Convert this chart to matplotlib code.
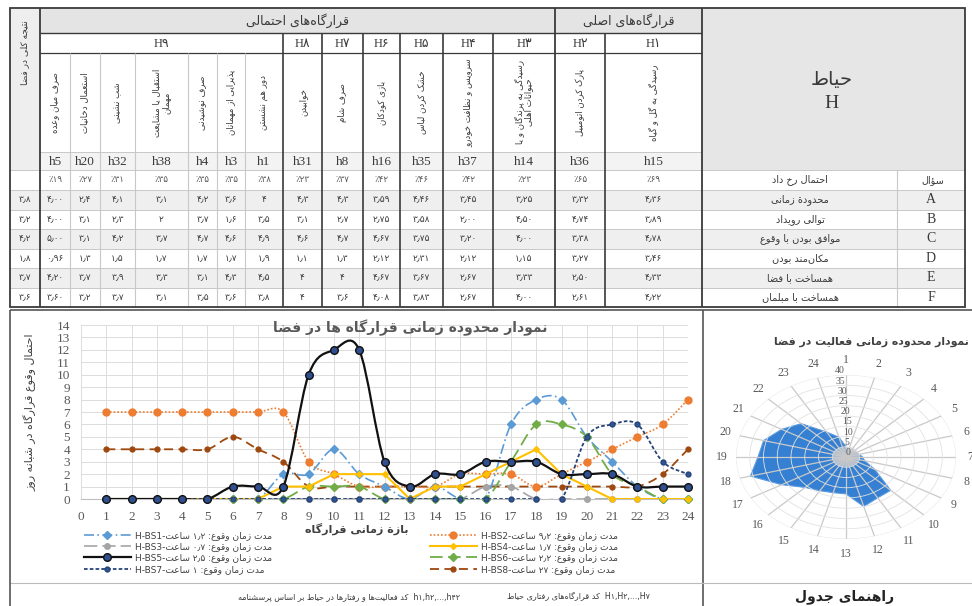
import numpy as np
import matplotlib
matplotlib.use('Agg')
import matplotlib.pyplot as plt
from matplotlib.path import Path
from matplotlib.patches import PathPatch, Rectangle
from matplotlib.lines import Line2D

plt.rcParams['font.family'] = ['DejaVu Sans']
SERIF = ['Liberation Serif', 'DejaVu Sans']

# ------------------------------------------------------------------ data
activity_codes = ['h5', 'h20', 'h32', 'h38', 'h4', 'h3', 'h1', 'h31', 'h8',
                  'h16', 'h35', 'h37', 'h14', 'h36', 'h15']
activity_names = ['صرف میان وعده', 'استعمال دخانیات', 'شب نشینی',
                  'استقبال یا مشایعت\nمهمان', 'صرف نوشیدنی', 'پذیرایی از مهمانان',
                  'دور هم نشستن', 'خوابیدن', 'صرف شام', 'بازی کودکان',
                  'خشک کردن لباس', 'سرویس و نظافت خودرو',
                  'رسیدگی به پرندگان و یا\nحیوانات اهلی', 'پارک کردن اتومبیل',
                  'رسیدگی به گل و گیاه']
occurrence_pct = [19, 27, 31, 35, 35, 35, 38, 23, 37, 42, 46, 42, 23, 65, 69]
setting_groups = ['H۹', 'H۸', 'H۷', 'H۶', 'H۵', 'H۴', 'H۳', 'H۲', 'H۱']
group_sizes = [7, 1, 1, 1, 1, 1, 1, 1, 1]
question_letters = ['A', 'B', 'C', 'D', 'E', 'F']
question_names = ['محدودة زمانی', 'توالی رویداد', 'موافق بودن با وقوع',
                  'مکان\u200cمند بودن', 'همساخت با فضا', 'همساخت با مبلمان']
score_A = ['4.00', '2.4', '4.1', '3.1', '4.2', '3.6', '4', '4.3', '4.3', '3.59', '4.46', '3.45', '3.25', '3.32', '4.36']
score_B = ['4.00', '3.1', '2.3', '2', '3.7', '1.6', '3.5', '3.1', '2.7', '2.75', '3.58', '2.00', '4.50', '4.74', '3.89']
score_C = ['5.00', '3.1', '4.2', '3.7', '4.7', '4.6', '4.9', '4.6', '4.7', '4.67', '3.75', '3.20', '4.00', '3.38', '4.78']
score_D = ['0.96', '1.3', '1.5', '1.7', '1.7', '1.7', '1.9', '1.1', '1.3', '2.12', '2.31', '2.12', '1.15', '3.27', '3.46']
score_E = ['4.20', '3.7', '3.9', '3.3', '3.1', '4.3', '4.5', '4', '4', '4.67', '3.67', '2.67', '3.33', '2.50', '4.33']
score_F = ['3.60', '3.2', '3.7', '3.1', '3.5', '3.6', '3.8', '4', '3.6', '4.08', '3.83', '2.67', '4.00', '2.61', '4.22']
overall_score = ['3.8', '3.2', '4.2', '1.8', '3.7', '3.6']

hours = list(range(1, 25))
series_names = ['H-BS1', 'H-BS2', 'H-BS3', 'H-BS4', 'H-BS5', 'H-BS6', 'H-BS7', 'H-BS8']
series_duration = ['1.2', '9.2', '0.7', '1.7', '2.5', '2.2', '1', '27']
BS1 = [0, 0, 0, 0, 0, 0, 0, 2, 2, 4, 2, 1, 0, 1, 0, 0, 6, 8, 8, 5, 3, 1, 0, 0]
BS2 = [7, 7, 7, 7, 7, 7, 7, 7, 3, 2, 1, 1, 1, 1, 2, 2, 2, 1, 2, 3, 4, 5, 6, 8]
BS3 = [0, 0, 0, 0, 0, 0, 0, 0, 0, 0, 0, 0, 0, 0, 0, 1, 1, 0, 0, 0, 0, 0, 0, 0]
BS4 = [0, 0, 0, 0, 0, 0, 0, 1, 1, 2, 2, 2, 0, 1, 1, 2, 3, 4, 2, 1, 0, 0, 0, 0]
BS5 = [0, 0, 0, 0, 0, 1, 1, 1, 10, 12, 12, 3, 1, 2, 2, 3, 3, 3, 2, 2, 2, 1, 1, 1]
BS6 = [0, 0, 0, 0, 0, 0, 0, 0, 1, 1, 1, 0, 0, 0, 0, 0, 3, 6, 6, 5, 2, 1, 0, 0]
BS7 = [0, 0, 0, 0, 0, 0, 0, 0, 0, 0, 0, 0, 0, 0, 0, 0, 0, 0, 0, 5, 6, 6, 3, 2]
BS8 = [4, 4, 4, 4, 4, 5, 4, 3, 1, 1, 1, 1, 1, 1, 1, 1, 1, 1, 1, 1, 1, 1, 2, 4]

radar_hours = list(range(1, 25))
radar_values = [5, 3, 3, 3, 4, 5, 6, 7, 12, 23, 23, 25, 18, 18, 19, 21, 27, 36, 32, 31, 27, 23, 14, 10]

# ------------------------------------------------------------------ Persian shaping
FORMS = {
    'ا': ('\uFE8D', '\uFE8E', None, None), 'آ': ('\uFE81', '\uFE82', None, None),
    'أ': ('\uFE83', '\uFE84', None, None), 'ؤ': ('\uFE85', '\uFE86', None, None),
    'ئ': ('\uFE89', '\uFE8A', '\uFE8B', '\uFE8C'),
    'ب': ('\uFE8F', '\uFE90', '\uFE91', '\uFE92'), 'پ': ('\uFB56', '\uFB57', '\uFB58', '\uFB59'),
    'ت': ('\uFE95', '\uFE96', '\uFE97', '\uFE98'), 'ث': ('\uFE99', '\uFE9A', '\uFE9B', '\uFE9C'),
    'ج': ('\uFE9D', '\uFE9E', '\uFE9F', '\uFEA0'), 'چ': ('\uFB7A', '\uFB7B', '\uFB7C', '\uFB7D'),
    'ح': ('\uFEA1', '\uFEA2', '\uFEA3', '\uFEA4'), 'خ': ('\uFEA5', '\uFEA6', '\uFEA7', '\uFEA8'),
    'د': ('\uFEA9', '\uFEAA', None, None), 'ذ': ('\uFEAB', '\uFEAC', None, None),
    'ر': ('\uFEAD', '\uFEAE', None, None), 'ز': ('\uFEAF', '\uFEB0', None, None),
    'ژ': ('\uFB8A', '\uFB8B', None, None),
    'س': ('\uFEB1', '\uFEB2', '\uFEB3', '\uFEB4'), 'ش': ('\uFEB5', '\uFEB6', '\uFEB7', '\uFEB8'),
    'ص': ('\uFEB9', '\uFEBA', '\uFEBB', '\uFEBC'), 'ض': ('\uFEBD', '\uFEBE', '\uFEBF', '\uFEC0'),
    'ط': ('\uFEC1', '\uFEC2', '\uFEC3', '\uFEC4'), 'ظ': ('\uFEC5', '\uFEC6', '\uFEC7', '\uFEC8'),
    'ع': ('\uFEC9', '\uFECA', '\uFECB', '\uFECC'), 'غ': ('\uFECD', '\uFECE', '\uFECF', '\uFED0'),
    'ف': ('\uFED1', '\uFED2', '\uFED3', '\uFED4'), 'ق': ('\uFED5', '\uFED6', '\uFED7', '\uFED8'),
    'ک': ('\uFB8E', '\uFB8F', '\uFB90', '\uFB91'), 'گ': ('\uFB92', '\uFB93', '\uFB94', '\uFB95'),
    'ل': ('\uFEDD', '\uFEDE', '\uFEDF', '\uFEE0'), 'م': ('\uFEE1', '\uFEE2', '\uFEE3', '\uFEE4'),
    'ن': ('\uFEE5', '\uFEE6', '\uFEE7', '\uFEE8'), 'ه': ('\uFEE9', '\uFEEA', '\uFEEB', '\uFEEC'),
    'و': ('\uFEED', '\uFEEE', None, None), 'ی': ('\uFBFC', '\uFBFD', '\uFBFE', '\uFBFF'),
    'ة': ('\uFE93', '\uFE94', None, None),
}
LAMALEF = {'ا': ('\uFEFB', '\uFEFC'), 'آ': ('\uFEF5', '\uFEF6'), 'أ': ('\uFEF7', '\uFEF8')}


def _dual(c):
    return c in FORMS and FORMS[c][2] is not None


def _shape(s):
    out = []
    i, n = 0, len(s)
    while i < n:
        ch = s[i]
        prev = s[i - 1] if i > 0 else ''
        nxt = s[i + 1] if i + 1 < n else ''
        if ch == 'ل' and nxt in LAMALEF:
            out.append(LAMALEF[nxt][1] if _dual(prev) else LAMALEF[nxt][0])
            i += 2
            continue
        if ch not in FORMS:
            if ch != '\u200c':
                out.append(ch)
            i += 1
            continue
        iso, fin, ini, med = FORMS[ch]
        jp = _dual(prev)
        jn = ini is not None and nxt in FORMS
        out.append(med if (jp and jn) else fin if jp else ini if jn else iso)
        i += 1
    return ''.join(out)


def fa(s):
    return '\n'.join(_shape(line)[::-1] for line in s.split('\n'))


FA_DIG = str.maketrans('0123456789.', '۰۱۲۳۴۵۶۷۸۹٫')


def pd(s):
    return str(s).translate(FA_DIG)


# ------------------------------------------------------------------ figure
W, H = 972, 606
fig = plt.figure(figsize=(W / 100, H / 100), dpi=100, facecolor='white')
tab = fig.add_axes([0, 0, 1, 1])
tab.set_xlim(0, W)
tab.set_ylim(H, 0)
tab.axis('off')

DARK = '#3a3a3a'
GRID = '#c8c8c8'
x_edges = [40, 70, 100, 135, 188, 217, 245, 283, 322, 363, 400, 443, 493, 555, 605, 702]
XL, XR = 10, 965
Y_TOP, Y_R1, Y_R2, Y_R3, Y_R4, Y_R5 = 8, 33, 53, 152, 170, 190
ROW_H = 19.5
Y_BOT = Y_R5 + ROW_H * 6


def hline(y, x0, x1, c=GRID, lw=0.7):
    tab.plot([x0, x1], [y, y], color=c, lw=lw, solid_capstyle='butt')


def vline(x, y0, y1, c=GRID, lw=0.7):
    tab.plot([x, x], [y0, y1], color=c, lw=lw, solid_capstyle='butt')


# backgrounds
tab.add_patch(Rectangle((x_edges[0], Y_TOP), x_edges[-1] - x_edges[0], Y_R1 - Y_TOP, fc='#e4e4e4', ec='none', zorder=0))
tab.add_patch(Rectangle((x_edges[-1], Y_TOP), XR - x_edges[-1], Y_R4 - Y_TOP, fc='#e6e6e6', ec='none', zorder=0))
tab.add_patch(Rectangle((XL, Y_TOP), x_edges[0] - XL, Y_R4 - Y_TOP, fc='#eeeeee', ec='none', zorder=0))
tab.add_patch(Rectangle((x_edges[0], Y_R3), x_edges[-1] - x_edges[0], Y_R4 - Y_R3, fc='#f3f3f3', ec='none', zorder=0))
for k in range(6):
    if k % 2 == 0:
        tab.add_patch(Rectangle((XL, Y_R5 + k * ROW_H), XR - XL, ROW_H, fc='#efefef', ec='none', zorder=0))

# horizontal rules
hline(Y_R1, x_edges[0], x_edges[-1], DARK, 1.0)
hline(Y_R2, x_edges[0], x_edges[-1], DARK, 0.9)
hline(Y_R3, x_edges[0], x_edges[-1], GRID, 0.7)
hline(Y_R4, XL, XR, GRID, 0.7)
for k in range(6):
    hline(Y_R5 + k * ROW_H, XL, XR, GRID, 0.7)

# vertical rules
major = [0, 7, 8, 9, 10, 11, 12, 13, 14, 15]
for i, x in enumerate(x_edges):
    if i in (0, 13, 15):
        vline(x, Y_TOP, Y_BOT, DARK, 1.3)
    elif i in major:
        vline(x, Y_R1, Y_BOT, DARK, 1.2)
    else:
        vline(x, Y_R2, Y_BOT, GRID, 0.8)
vline(897, Y_R4, Y_BOT, GRID, 0.8)
tab.add_patch(Rectangle((XL, Y_TOP), XR - XL, Y_BOT - Y_TOP, fc='none', ec=DARK, lw=1.3, zorder=3))

# header texts
tab.text((x_edges[0] + x_edges[13]) / 2, (Y_TOP + Y_R1) / 2, fa('قرارگاه\u200cهای احتمالی'),
         ha='center', va='center', fontsize=9, color=DARK)
tab.text((x_edges[13] + x_edges[15]) / 2, (Y_TOP + Y_R1) / 2, fa('قرارگاه\u200cهای اصلی'),
         ha='center', va='center', fontsize=9, color=DARK)
col = 0
for g, size in zip(setting_groups, group_sizes):
    xc = (x_edges[col] + x_edges[col + size]) / 2
    tab.text(xc, (Y_R1 + Y_R2) / 2 + 1, g, ha='center', va='center', fontsize=9,
             color=DARK, family=SERIF)
    col += size

tab.text((XL + x_edges[0]) / 2, Y_TOP + 12, fa('نتیجه کلی در فضا'), rotation=90,
         ha='center', va='top', fontsize=6.5, color=DARK)
tab.text(832, 80, fa('حیاط'), ha='center', va='center', fontsize=14, color=DARK)
tab.text(832, 104, 'H', ha='center', va='center', fontsize=14, color=DARK, family=SERIF)

rows = [score_A, score_B, score_C, score_D, score_E, score_F]
for j in range(len(activity_codes)):
    xc = (x_edges[j] + x_edges[j + 1]) / 2
    tab.text(xc, (Y_R2 + Y_R3) / 2, fa(activity_names[j]), rotation=90, ha='center',
             va='center', fontsize=6.2, color=DARK, multialignment='center', linespacing=1.0)
    tab.text(xc, (Y_R3 + Y_R4) / 2 + 1, activity_codes[j], ha='center', va='center',
             fontsize=9.5, color=DARK, family=SERIF)
    tab.text(xc, (Y_R4 + Y_R5) / 2, '٪' + pd(occurrence_pct[j]), ha='center', va='center',
             fontsize=6.3, color='#555555')
    for k, r in enumerate(rows):
        tab.text(xc, Y_R5 + (k + 0.5) * ROW_H, pd(r[j]), ha='center', va='center',
                 fontsize=6.5, color=DARK)
for k, v in enumerate(overall_score):
    tab.text((XL + x_edges[0]) / 2, Y_R5 + (k + 0.5) * ROW_H, pd(v), ha='center',
             va='center', fontsize=6.5, color=DARK)

tab.text(800, (Y_R4 + Y_R5) / 2, fa('احتمال رخ داد'), ha='center', va='center',
         fontsize=7, color=DARK)
tab.text(933, (Y_R4 + Y_R5) / 2, fa('سؤال'), ha='center', va='center', fontsize=7, color=DARK)
for k in range(6):
    y = Y_R5 + (k + 0.5) * ROW_H
    tab.text(800, y, fa(question_names[k]), ha='center', va='center', fontsize=7, color=DARK)
    tab.text(931, y, question_letters[k], ha='center', va='center', fontsize=10,
             color=DARK, family=SERIF)

# panel frames (bottom half)
P_TOP, P_SPLIT, P_MID = 310, 583, 703
tab.add_patch(Rectangle((XL, P_TOP), W - XL + 5, H - P_TOP + 5, fc='none', ec='#555555', lw=1.2, zorder=3))
vline(P_MID, P_TOP, H, '#555555', 1.2)
hline(P_SPLIT, XL, W, '#bbbbbb', 0.8)

tab.text(650, 597, fa('کد قرارگاه\u200cهای رفتاری حیاط') + '  H۱,H۲,...,H۷',
         ha='right', va='center', fontsize=5.8, color=DARK)
tab.text(460, 597, fa('کد فعالیت\u200cها و رفتارها در حیاط بر اساس پرسشنامه') + '  h۱,h۲,...,h۴۲',
         ha='right', va='center', fontsize=5.8, color=DARK)
tab.text(845, 597, fa('راهنمای جدول'), ha='center', va='center', fontsize=10,
         fontweight='bold', color='#222222')

# ------------------------------------------------------------------ line chart
ax = fig.add_axes([81 / W, 1 - 499 / H, 607 / W, 174 / H])
ax.set_facecolor('none')
ax.set_xlim(0, 24)
ax.set_ylim(0, 14)
ax.set_xticks(range(0, 25))
ax.set_yticks(range(0, 15))
ax.grid(True, color='#dcdcdc', lw=0.7)
ax.set_axisbelow(True)
for s in ('top', 'right', 'left'):
    ax.spines[s].set_visible(False)
ax.spines['bottom'].set_color('#bfbfbf')
ax.tick_params(length=0, labelsize=9.5, labelcolor='#595959', labelfontfamily='Liberation Serif')
ax.tick_params(axis='x', pad=9)
ax.tick_params(axis='y', pad=8)


def smooth_path(x, y):
    pts = np.column_stack([x, y]).astype(float)
    n = len(pts)
    verts = [pts[0]]
    codes = [Path.MOVETO]
    for i in range(n - 1):
        p0 = pts[i - 1] if i > 0 else pts[i]
        p1, p2 = pts[i], pts[i + 1]
        p3 = pts[i + 2] if i + 2 < n else pts[i + 1]
        verts += [p1 + (p2 - p0) / 6, p2 - (p3 - p1) / 6, p2]
        codes += [Path.CURVE4] * 3
    return Path(verts, codes)


styles = [
    dict(color='#5b9bd5', ls=(0, (6, 2, 1, 2)), lw=1.2, marker='D', ms=4, mfc='#5b9bd5', mec='#5b9bd5', smooth=True),
    dict(color='#ed7d31', ls=(0, (1, 1.2)), lw=1.2, marker='o', ms=5, mfc='#ed7d31', mec='#ed7d31', smooth=True),
    dict(color='#a5a5a5', ls=(0, (8, 3)), lw=1.2, marker='o', ms=4, mfc='#a5a5a5', mec='#a5a5a5', smooth=True),
    dict(color='#ffc000', ls='-', lw=1.5, marker='D', ms=3, mfc='#ffc000', mec='#ffc000', smooth=False),
    dict(color='#111111', ls='-', lw=1.6, marker='o', ms=5.5, mfc='#2f4f8f', mec='#111111', smooth=True),
    dict(color='#70ad47', ls=(0, (7, 3)), lw=1.3, marker='D', ms=4, mfc='#70ad47', mec='#70ad47', smooth=True),
    dict(color='#264478', ls=(0, (2, 1.2)), lw=1.3, marker='o', ms=3.5, mfc='#2f5597', mec='#264478', smooth=True),
    dict(color='#9e480e', ls=(0, (5, 3)), lw=1.3, marker='o', ms=3.5, mfc='#9e480e', mec='#9e480e', smooth=True),
]
series = [BS1, BS2, BS3, BS4, BS5, BS6, BS7, BS8]
draw_order = [7, 2, 1, 0, 5, 3, 6, 4]
for idx in draw_order:
    st = styles[idx]
    y = series[idx]
    z = 3 + draw_order.index(idx) * 0.1
    if st['smooth']:
        ax.add_patch(PathPatch(smooth_path(hours, y), fill=False, edgecolor=st['color'],
                               lw=st['lw'], linestyle=st['ls'], zorder=z, clip_on=True))
    else:
        ax.plot(hours, y, color=st['color'], lw=st['lw'], ls=st['ls'], zorder=z)
    ax.plot(hours, y, ls='none', marker=st['marker'], ms=st['ms'], mfc=st['mfc'],
            mec=st['mec'], mew=1.0, zorder=z + 0.05, clip_on=False)

fig.text(410 / W, 1 - 328 / H, fa('نمودار محدوده زمانی قرارگاه ها در فضا'), ha='center',
         va='center', fontsize=10, fontweight='bold', color='#595959')
fig.text(30 / W, 1 - 412 / H, fa('احتمال وقوع قرارگاه در شبانه روز'), rotation=90,
         ha='center', va='center', fontsize=8, color='#404040')
fig.text(357 / W, 1 - 529 / H, fa('بازة زمانی قرارگاه'), ha='center', va='center',
         fontsize=8, fontweight='bold', color='#404040')


def handle(st):
    return Line2D([], [], color=st['color'], lw=st['lw'], ls=st['ls'], marker=st['marker'],
                  ms=st['ms'], mfc=st['mfc'], mec=st['mec'])


def label(i):
    return series_names[i] + '-' + fa('ساعت') + ' ' + pd(series_duration[i]) + ' ' + fa('مدت زمان وقوع:')


left_ids, right_ids = [0, 2, 4, 6], [1, 3, 5, 7]
leg_kw = dict(loc='upper left', frameon=False, fontsize=6.5, handlelength=5.2,
              handletextpad=0.4, labelspacing=0.25, borderpad=0, borderaxespad=0,
              bbox_transform=fig.transFigure, labelcolor='#404040')
leg1 = ax.legend([handle(styles[i]) for i in left_ids], [label(i) for i in left_ids],
                 bbox_to_anchor=(84 / W, 1 - 531 / H), **leg_kw)
ax.add_artist(leg1)
ax.legend([handle(styles[i]) for i in right_ids], [label(i) for i in right_ids],
          bbox_to_anchor=(430 / W, 1 - 531 / H), **leg_kw)

# ------------------------------------------------------------------ radar
RC, RXR = 846, 110
rx = fig.add_axes([(RC - RXR) / W, 1 - 539 / H, 2 * RXR / W, 164 / H], projection='polar')
rx.set_aspect('auto')
rx.set_facecolor('none')
rx.set_theta_zero_location('N')
rx.set_theta_direction(-1)
theta = np.deg2rad((np.array(radar_hours) - 1) * 15.0)
vals = np.array(radar_values, dtype=float)
rx.fill(np.r_[theta, theta[0]], np.r_[vals, vals[0]], color='#3580d2', ec='#5a9be0',
        lw=0.8, zorder=1)
circ = np.linspace(0, 2 * np.pi, 100)
rx.fill(circ, np.full_like(circ, 4.8), color='#c3c9d3', zorder=1.2, lw=0, alpha=0.85)
rx.fill(circ, np.full_like(circ, 2.8), color='#b3bac6', zorder=1.25, lw=0)
rx.set_ylim(0, 40)
rx.set_yticks(range(0, 41, 5))
rx.set_yticklabels([str(v) for v in range(0, 41, 5)], fontsize=7, color='#595959',
                   family='Liberation Serif')
rx.set_rlabel_position(354)
rx.set_xticks(theta)
rx.set_xticklabels([str(h) for h in radar_hours], fontsize=8.5, color='#595959',
                   family='Liberation Serif')
rx.tick_params(axis='x', pad=0)
rx.xaxis.grid(True, color='#c9c9c9', lw=0.9)
rx.yaxis.grid(True, color='#e2e2e2', lw=0.6)
rx.spines['polar'].set_visible(False)
fig.text(969 / W, 1 - 342 / H, fa('نمودار محدوده زمانی فعالیت در فضا'), ha='right',
         va='center', fontsize=7.8, fontweight='bold', color='#404040')

fig.savefig('out.png', dpi=100)
